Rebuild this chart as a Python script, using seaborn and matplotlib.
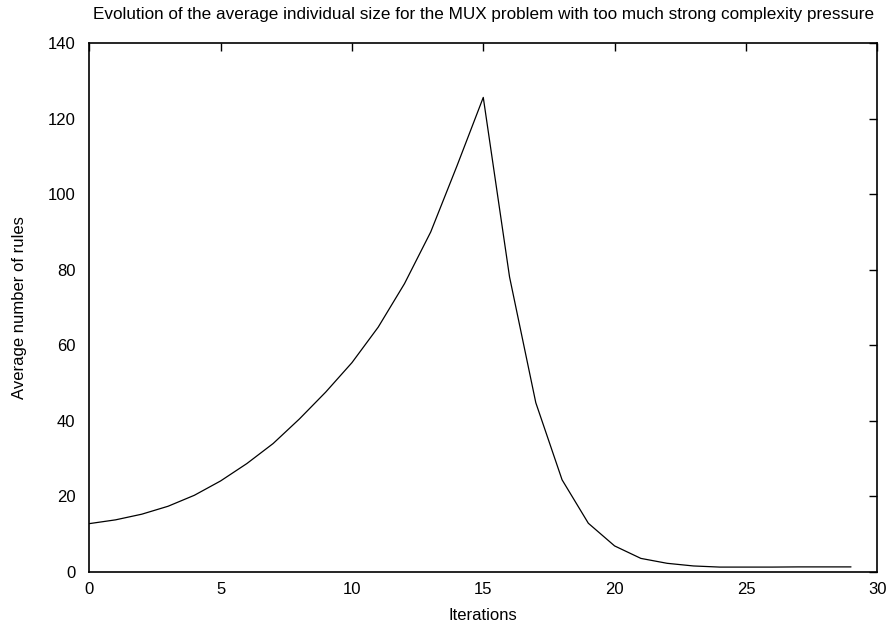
import matplotlib
matplotlib.use("Agg")
import matplotlib.pyplot as plt
import seaborn as sns
import pandas as pd

iterations = list(range(30))
avg_rules = [12.8, 13.8, 15.3, 17.4, 20.3, 24.1, 28.7, 34.0, 40.5, 47.6,
             55.4, 64.8, 76.3, 90.0, 107.5, 125.6, 78.1, 44.8, 24.4, 12.9,
             6.9, 3.6, 2.3, 1.6, 1.3, 1.3, 1.3, 1.35, 1.35, 1.35]

title = "Evolution of the average individual size for the MUX problem with too much strong complexity pressure"
x_label = "Iterations"
y_label = "Average number of rules"
x_ticks = [0, 5, 10, 15, 20, 25, 30]
y_ticks = [0, 20, 40, 60, 80, 100, 120, 140]

sns.set_theme(style="white")
plt.rcParams["font.family"] = ["Liberation Sans", "DejaVu Sans"]

df = pd.DataFrame({"iteration": iterations, "rules": avg_rules})

fig = plt.figure(figsize=(8.9, 6.25), dpi=100)
ax = fig.add_axes([0.1003, 0.0848, 0.8854, 0.8464])

sns.lineplot(data=df, x="iteration", y="rules", color="black", linewidth=0.9, ax=ax)

ax.set_xlim(0, 30)
ax.set_ylim(0, 140)
ax.set_xticks(x_ticks)
ax.set_yticks(y_ticks)
ax.tick_params(direction="in", length=6, width=1, top=True, right=True,
               labeltop=False, labelright=False, labelsize=12, color="black",
               labelcolor="black")
ax.tick_params(axis="y", pad=10)
ax.tick_params(axis="x", pad=7)
for side in ax.spines.values():
    side.set_color("black")
    side.set_linewidth(1.2)

ax.set_xlabel(x_label, fontsize=12, color="black", labelpad=8)
ax.set_ylabel(y_label, fontsize=12, color="black", labelpad=15)
ax.set_title(title, fontsize=12.3, color="black", pad=17)

fig.savefig("out.png", dpi=100)
